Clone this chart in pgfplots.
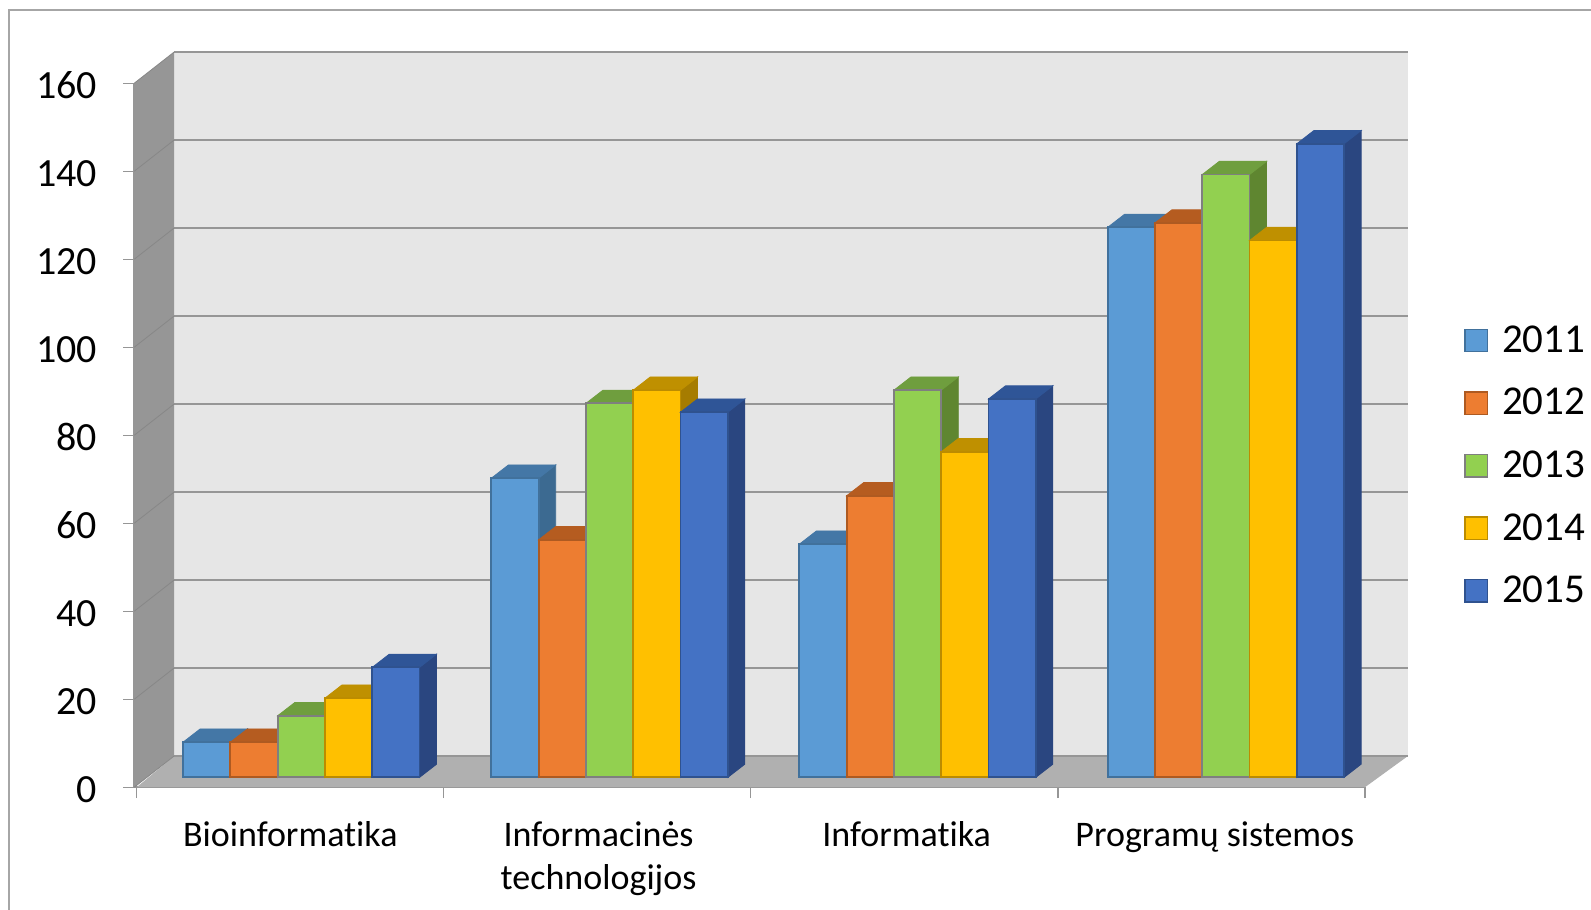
\documentclass[border=0pt]{standalone}
\usepackage{fontspec}
\setmainfont[Ligatures=CommonOff]{Carlito}
\usepackage{pgfplots}
\usepackage{pgfplotstable}
\pgfplotsset{compat=1.18}
\pgfplotsset{/pgfplots/area legend/.style={/pgfplots/legend image code/.code={\draw[##1,line width=.7pt,xshift=-5.5pt,yshift=-4.9pt] (0,-5.6pt) rectangle (11.2pt,5.6pt);}}}
\definecolor{frame}{HTML}{A6A6A6}
\definecolor{wall}{HTML}{E6E6E6}
\definecolor{sidewall}{HTML}{969696}
\definecolor{floorc}{HTML}{B0B0B0}
\definecolor{gridc}{HTML}{969696}
\definecolor{aF}{HTML}{5B9BD5}\definecolor{aE}{HTML}{41719C}\definecolor{aT}{HTML}{4477A6}\definecolor{aS}{HTML}{3C6A91}
\definecolor{bF}{HTML}{ED7D31}\definecolor{bE}{HTML}{AE5A21}\definecolor{bT}{HTML}{B55C20}\definecolor{bS}{HTML}{A0521C}
\definecolor{cF}{HTML}{92D050}\definecolor{cE}{HTML}{7F7F7F}\definecolor{cT}{HTML}{6F9E3E}\definecolor{cS}{HTML}{5F8630}
\definecolor{dF}{HTML}{FFC000}\definecolor{dE}{HTML}{BC8C00}\definecolor{dT}{HTML}{BF9000}\definecolor{dS}{HTML}{A67C00}
\definecolor{eF}{HTML}{4472C4}\definecolor{eE}{HTML}{2F528F}\definecolor{eT}{HTML}{2F5597}\definecolor{eS}{HTML}{2A4680}
\pgfplotstableread{
x y
0.5 8
1.504 68
2.507 53
3.511 125
}\tA
\pgfplotstableread{
x y
0.5 8
1.504 54
2.507 64
3.511 126
}\tB
\pgfplotstableread{
x y
0.5 14
1.504 85
2.507 88
3.511 137
}\tC
\pgfplotstableread{
x y
0.5 18
1.504 88
2.507 74
3.511 122
}\tD
\pgfplotstableread{
x y
0.5 25
1.504 83
2.507 86
3.511 144
}\tE
% top and side faces of one series: table, slot k, top, side, edge
\newcommand\faces[5]{%
  \pgfplotsinvokeforeach{0,1,2,3}{%
    \pgfplotstablegetelem{##1}{y}\of{#1}\let\vv\pgfplotsretval
    \pgfplotstablegetelem{##1}{x}\of{#1}\let\xx\pgfplotsretval
    \pgfmathsetmacro\xa{\xx+(#2-0.5)*0.154}%
    \pgfmathsetmacro\xb{\xa+0.154}%
    \pgfmathsetmacro\xc{\xb+0.0555}%
    \pgfmathsetmacro\xd{\xa+0.0555}%
    \pgfmathsetmacro\vt{\vv+3.0}%
    \pgfmathsetmacro\vbase{3.0}%
    \edef\temp{\noexpand\addplot[forget plot,fill=#4,draw=#4,line width=.4pt,xshift=5.5pt,yshift=4.9pt]
      coordinates {(\xb,0)(\xc,\vbase)(\xc,\vt)(\xb,\vv)} -- cycle;
      \noexpand\addplot[forget plot,fill=#3,draw=#3,line width=.4pt,xshift=5.5pt,yshift=4.9pt]
      coordinates {(\xa,\vv)(\xb,\vv)(\xc,\vt)(\xd,\vt)} -- cycle;}%
    \temp
  }%
}
\newcommand\front[4]{%
  \addplot[ybar,bar width=23.65pt,bar shift=#2*23.65pt,fill=#3,draw=#4,line width=.9pt,xshift=5.5pt,yshift=4.9pt,area legend] table[x=x,y=y] {#1};
}
\begin{document}
\begin{tikzpicture}
\useasboundingbox (0,0) rectangle (795.5pt,455pt);
\draw[frame,line width=.8pt] (4.6pt,-2pt) -- (4.6pt,450pt) -- (800pt,450pt);
\begin{axis}[
  at={(67.15pt,61.4pt)},anchor=south west,
  scale only axis,width=615.35pt,height=352pt,
  xmin=-0.008,xmax=4,ymin=0,ymax=160,clip=false,
  axis lines*=left,
  axis line style={gridc,line width=.8pt,-},
  tick style={gridc,line width=.6pt},
  tick align=outside,
  major tick length=5.5pt,minor tick length=5.5pt,
  ytick={0,20,...,160},
  xtick={0.5,1.504,2.507,3.511},
  xticklabels={Bioinformatika,{Informacinės\\technologijos},Informatika,Programų sistemos},
  minor xtick={0,1,2,3,4},
  major x tick style={draw=none},
  x tick label style={align=center,anchor=north,font=\fontsize{18}{21.8}\selectfont,yshift=-8pt},
  y tick label style={anchor=east,font=\fontsize{20}{22}\selectfont,xshift=-9.5pt,yshift=-1pt},
  /pgf/number format/assume math mode=true,
  legend style={draw=none,fill=none,at={(axis cs:4.322,105.9)},anchor=north west,
    font=\fontsize{20.5}{22}\selectfont,row sep=12.5pt,inner sep=0pt,
    /tikz/every odd column/.append style={column sep=5pt}},
  legend cell align=left,
]
% walls and floor
\addplot[forget plot,fill=wall,draw=none] coordinates {(0.122,7.1)(4.14,7.1)(4.14,167.1)(0.122,167.1)} -- cycle;
\addplot[forget plot,fill=sidewall,draw=none] coordinates {(-0.008,0)(0.122,7.1)(0.122,167.1)(-0.008,160)} -- cycle;
\addplot[forget plot,fill=floorc,draw=none] coordinates {(0,0)(4,0)(4.14,7.1)(0.122,7.1)} -- cycle;
% gridlines
\pgfplotsinvokeforeach{0,20,40,60,80,100,120,140,160}{%
  \pgfmathsetmacro\gy{#1+7.1}%
  \edef\temp{\noexpand\addplot[forget plot,gridc,line width=1.2pt] coordinates {(0.122,\gy)(4.14,\gy)};
    \noexpand\addplot[forget plot,gridc!90!black,line width=.4pt] coordinates {(-0.008,#1)(0.122,\gy)};}%
  \temp
}
\faces{\tA}{-2}{aT}{aS}{aE}\front{\tA}{-2}{aF}{aE}
\faces{\tB}{-1}{bT}{bS}{bE}\front{\tB}{-1}{bF}{bE}
\faces{\tC}{0}{cT}{cS}{cE}\front{\tC}{0}{cF}{cE}
\faces{\tD}{1}{dT}{dS}{dE}\front{\tD}{1}{dF}{dE}
\faces{\tE}{2}{eT}{eS}{eE}\front{\tE}{2}{eF}{eE}
\legend{2011,2012,2013,2014,2015}
\end{axis}
\end{tikzpicture}
\end{document}
